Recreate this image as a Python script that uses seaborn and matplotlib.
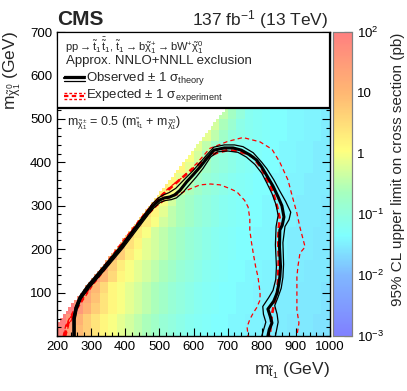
import numpy as np
import pandas as pd
import matplotlib
matplotlib.use("Agg")
import matplotlib.pyplot as plt
from matplotlib.colors import LinearSegmentedColormap
from matplotlib.patches import Rectangle
import seaborn as sns

nan = np.nan

# ==================== DATA ====================
# 95% CL upper limit, log10(pb), 25 GeV cells: rows m_chi0 = 0..525, cols m_stop = 200..1000
MSTOP_START, MCHI_START, CELL = 200, 0, 25
LIMIT_LOG10 = [
    [1.9, 1.4, 0.95, 0.7, 0.4, 0.15, 0.0, -0.15, -0.3, -0.45, -0.6, -0.75, -0.9, -1.0, -1.1, -1.2, -1.25, -1.3, -1.35, -1.35, -1.4, -1.4, -1.45, -1.45, -1.5, -1.5, -1.5, -1.55, -1.55, -1.55, -1.6, -1.6],
    [2.0, 1.55, 1.1, 0.7, 0.4, 0.15, 0.0, -0.15, -0.3, -0.45, -0.6, -0.75, -0.9, -1.0, -1.1, -1.2, -1.25, -1.3, -1.35, -1.35, -1.4, -1.4, -1.45, -1.45, -1.5, -1.5, -1.5, -1.55, -1.55, -1.55, -1.6, -1.6],
    [2.0, 2.0, 1.55, 1.1, 0.7, 0.4, 0.15, 0.0, -0.15, -0.3, -0.45, -0.6, -0.75, -0.9, -1.0, -1.1, -1.2, -1.25, -1.3, -1.35, -1.35, -1.4, -1.4, -1.45, -1.45, -1.5, -1.5, -1.5, -1.55, -1.55, -1.55, -1.6],
    [nan, 2.0, 1.7, 1.25, 0.85, 0.4, 0.15, 0.0, -0.15, -0.3, -0.45, -0.6, -0.75, -0.9, -1.0, -1.1, -1.2, -1.25, -1.3, -1.35, -1.35, -1.4, -1.4, -1.45, -1.45, -1.5, -1.5, -1.5, -1.55, -1.55, -1.55, -1.6],
    [nan, nan, 1.7, 1.4, 1.0, 0.55, 0.15, 0.0, -0.15, -0.3, -0.45, -0.6, -0.75, -0.9, -1.0, -1.1, -1.2, -1.25, -1.3, -1.35, -1.35, -1.4, -1.4, -1.45, -1.45, -1.5, -1.5, -1.5, -1.55, -1.55, -1.55, -1.6],
    [nan] * 3 + [1.7, 1.4, 1.0, 0.55, 0.15, 0.0, -0.15, -0.3, -0.45, -0.6, -0.75, -0.9, -1.0, -1.1, -1.2, -1.25, -1.3, -1.35, -1.35, -1.4, -1.4, -1.45, -1.45, -1.5, -1.5, -1.5, -1.55, -1.55, -1.55],
    [nan] * 4 + [1.4, 1.15, 0.7, 0.3, 0.0, -0.15, -0.3, -0.45, -0.6, -0.75, -0.9, -1.0, -1.1, -1.2, -1.25, -1.3, -1.35, -1.35, -1.4, -1.4, -1.45, -1.45, -1.5, -1.5, -1.5, -1.55, -1.55, -1.55],
    [nan] * 5 + [1.4, 1.15, 0.7, 0.3, 0.0, -0.15, -0.3, -0.45, -0.6, -0.75, -0.9, -1.0, -1.1, -1.2, -1.25, -1.3, -1.35, -1.35, -1.4, -1.4, -1.45, -1.45, -1.5, -1.5, -1.5, -1.55, -1.55],
    [nan] * 6 + [1.15, 0.85, 0.45, 0.15, -0.15, -0.3, -0.45, -0.6, -0.75, -0.9, -1.0, -1.1, -1.2, -1.25, -1.3, -1.35, -1.35, -1.4, -1.4, -1.45, -1.45, -1.5, -1.5, -1.5, -1.55, -1.55],
    [nan] * 7 + [0.85, 0.6, 0.3, 0.0, -0.3, -0.45, -0.6, -0.75, -0.9, -1.0, -1.1, -1.2, -1.25, -1.3, -1.35, -1.35, -1.4, -1.4, -1.45, -1.45, -1.5, -1.5, -1.5, -1.55, -1.55],
    [nan] * 8 + [0.85, 0.6, 0.3, 0.0, -0.3, -0.45, -0.6, -0.75, -0.9, -1.0, -1.1, -1.2, -1.25, -1.3, -1.35, -1.35, -1.4, -1.4, -1.45, -1.45, -1.5, -1.5, -1.5, -1.55],
    [nan] * 9 + [0.6, 0.45, 0.15, -0.15, -0.45, -0.6, -0.75, -0.9, -1.0, -1.1, -1.2, -1.25, -1.3, -1.35, -1.35, -1.4, -1.4, -1.45, -1.45, -1.5, -1.5, -1.5, -1.55],
    [nan] * 10 + [0.45, 0.3, 0.0, -0.3, -0.6, -0.75, -0.9, -1.0, -1.1, -1.2, -1.25, -1.3, -1.35, -1.35, -1.4, -1.4, -1.45, -1.45, -1.5, -1.5, -1.5, -1.55],
    [nan] * 11 + [0.45, 0.3, 0.0, -0.3, -0.6, -0.75, -0.9, -1.0, -1.1, -1.2, -1.25, -1.3, -1.35, -1.35, -1.4, -1.4, -1.45, -1.45, -1.5, -1.5, -1.5],
    [nan] * 12 + [0.3, 0.15, -0.15, -0.45, -0.75, -0.9, -1.0, -1.1, -1.2, -1.25, -1.3, -1.35, -1.35, -1.4, -1.4, -1.45, -1.45, -1.5, -1.5, -1.5],
    [nan] * 13 + [0.3, 0.15, -0.15, -0.45, -0.75, -0.9, -1.0, -1.1, -1.2, -1.25, -1.3, -1.35, -1.35, -1.4, -1.4, -1.45, -1.45, -1.5, -1.5],
    [nan] * 14 + [0.15, 0.0, -0.3, -0.6, -0.9, -1.0, -1.1, -1.2, -1.25, -1.3, -1.35, -1.35, -1.4, -1.4, -1.45, -1.45, -1.5, -1.5],
    [nan] * 15 + [0.0, -0.15, -0.45, -0.75, -1.0, -1.1, -1.2, -1.25, -1.3, -1.35, -1.35, -1.4, -1.4, -1.45, -1.45, -1.5, -1.5],
    [nan] * 16 + [0.0, -0.15, -0.45, -0.75, -1.0, -1.1, -1.2, -1.25, -1.3, -1.35, -1.35, -1.4, -1.4, -1.45, -1.45, -1.5],
    [nan] * 17 + [-0.15, -0.3, -0.6, -0.85, -1.1, -1.2, -1.25, -1.3, -1.35, -1.35, -1.4, -1.4, -1.45, -1.45, -1.5],
    [nan] * 18 + [-0.3, -0.45, -0.7, -0.95, -1.2, -1.25, -1.3, -1.35, -1.35, -1.4, -1.4, -1.45, -1.45, -1.5],
]
DM_MIN = 167  # kinematic edge m_stop - m_chi0 (GeV)

# observed contour and +-1 sigma theory
obs_x = [250, 250, 256, 268, 291, 320, 341, 365, 390, 415, 440, 465, 482, 500, 515, 530, 545, 560, 580, 600, 620, 640, 660, 690, 716, 740, 765, 785, 800, 818, 833, 848, 859, 865, 860, 853, 852, 855, 853, 850, 845, 835, 818, 825, 830, 822, 818]
obs_y = [0, 40, 64, 88, 113, 140, 159, 182, 205, 232, 258, 283, 300, 313, 318, 320, 325, 335, 355, 372, 390, 410, 428, 433, 433, 428, 417, 405, 389, 365, 345, 320, 300, 274, 255, 244, 205, 160, 136, 120, 99, 80, 62, 45, 30, 15, 0]
obs_up_x = [247, 247, 253, 265, 288, 338, 387, 462, 480, 497, 512, 528, 548, 575, 598, 620, 640, 660, 690, 720, 745, 775, 800, 815, 835, 852, 870, 885, 880, 868, 862, 864, 862, 857, 848, 838, 845, 848, 840]
obs_up_y = [0, 42, 66, 90, 116, 162, 208, 286, 305, 318, 325, 330, 340, 362, 380, 400, 418, 435, 440, 440, 436, 422, 400, 385, 360, 335, 310, 285, 268, 252, 215, 165, 135, 110, 90, 70, 50, 32, 0]
obs_dn_x = [253, 253, 259, 271, 294, 344, 393, 468, 485, 503, 518, 535, 550, 568, 588, 608, 628, 650, 670, 700, 730, 755, 780, 800, 815, 830, 842, 848, 842, 840, 843, 841, 833, 820, 803, 805, 812, 800]
obs_dn_y = [0, 38, 62, 86, 110, 156, 202, 280, 296, 308, 312, 314, 318, 330, 348, 366, 386, 412, 424, 426, 423, 412, 395, 375, 352, 328, 302, 278, 252, 210, 160, 130, 105, 88, 68, 50, 32, 0]

# expected contour and +-1 sigma experiment
exp_x = [222, 230, 240, 260, 300, 350, 400, 440, 470, 500, 531, 560, 590, 620, 648, 669, 700, 727, 755, 775, 800, 815, 824, 835, 845, 853, 850, 848, 850, 848, 845, 838, 830, 826, 824]
exp_y = [0, 25, 40, 68, 118, 168, 220, 262, 292, 318, 340, 360, 380, 398, 415, 422, 428, 426, 420, 412, 385, 360, 350, 325, 298, 270, 250, 220, 180, 130, 100, 80, 50, 25, 0]
exp_up_x = [218, 226, 256, 296, 346, 396, 446, 480, 510, 531, 569, 610, 648, 700, 745, 795, 830, 853, 877, 890, 903, 912, 927, 912, 906, 903, 903, 903, 909, 903]
exp_up_y = [0, 25, 70, 120, 170, 222, 272, 305, 328, 343, 366, 398, 432, 448, 457, 447, 430, 400, 359, 320, 283, 250, 205, 191, 160, 136, 99, 60, 30, 0]
exp_dn_x = [226, 234, 264, 303, 353, 403, 453, 493, 520, 552, 585, 619, 650, 678, 705, 727, 750, 760, 765, 765, 770, 775, 782, 789, 795, 795, 785, 775, 765, 757, 760]
exp_dn_y = [0, 25, 68, 115, 165, 217, 268, 300, 315, 325, 337, 348, 350, 348, 340, 332, 312, 297, 270, 244, 215, 191, 160, 136, 100, 83, 65, 53, 38, 21, 0]

X_TICKS = [200, 300, 400, 500, 600, 700, 800, 900, 1000]
Y_TICKS = [100, 200, 300, 400, 500, 600, 700]
CBAR_TICKS = [-3, -2, -1, 0, 1, 2]
CBAR_LABELS = [r'$10^{-3}$', r'$10^{-2}$', r'$10^{-1}$', '1', '10', r'$10^{2}$']

# ==================== STYLE ====================
sns.set_theme(style='ticks')
plt.rcParams['font.family'] = ['Liberation Sans', 'DejaVu Sans']
plt.rcParams['mathtext.fontset'] = 'custom'
plt.rcParams['mathtext.rm'] = 'Liberation Sans'
plt.rcParams['mathtext.it'] = 'Liberation Sans:italic'
plt.rcParams['mathtext.bf'] = 'Liberation Sans:bold'
plt.rcParams['mathtext.default'] = 'regular'

cmap = LinearSegmentedColormap.from_list('pastel_rainbow', [
    (0.00, (0.50, 0.50, 1.00)),
    (0.20, (0.50, 0.72, 1.00)),
    (0.33, (0.50, 1.00, 1.00)),
    (0.47, (0.65, 1.00, 0.75)),
    (0.61, (1.00, 1.00, 0.50)),
    (0.80, (1.00, 0.72, 0.45)),
    (1.00, (1.00, 0.50, 0.50)),
])

W, H = 407, 391
fig = plt.figure(figsize=(W / 100, H / 100), dpi=100)
pos = [57 / W, (H - 336) / H, 273 / W, 304 / H]
ax_hm = fig.add_axes(pos)
cax = fig.add_axes([333 / W, (H - 336) / H, 19 / W, 304 / H])
ax = fig.add_axes(pos)
ax.set_facecolor('none')

# ==================== HEATMAP ====================
SUB = 3  # split each cell to draw the kinematic edge as a fine staircase
grid = np.repeat(np.repeat(np.array(LIMIT_LOG10, dtype=float), SUB, axis=0), SUB, axis=1)
step = CELL / SUB
mstop_c = MSTOP_START + (np.arange(grid.shape[1]) + 0.5) * step
mchi_c = MCHI_START + (np.arange(grid.shape[0]) + 0.5) * step
grid[mchi_c[:, None] > mstop_c[None, :] - DM_MIN] = nan

sns.heatmap(pd.DataFrame(grid[::-1]), ax=ax_hm, cmap=cmap, vmin=-3, vmax=2,
            cbar_ax=cax, xticklabels=False, yticklabels=False)
n_rows, n_cols = grid.shape
ax_hm.set_xlim(0, n_cols)
ax_hm.set_ylim(n_rows, n_rows - 700 / step)
ax_hm.axis('off')

# ==================== CONTOURS ====================
def draw(x, y, **kw):
    sns.lineplot(x=x, y=y, sort=False, estimator=None, ax=ax, **kw)

draw(exp_up_x, exp_up_y, color='red', lw=0.9, linestyle=(0, (3.5, 2.5)))
draw(exp_dn_x, exp_dn_y, color='red', lw=0.9, linestyle=(0, (3.5, 2.5)))
draw(exp_x, exp_y, color='red', lw=1.9, linestyle=(0, (2.2, 1.4)))
draw(obs_up_x, obs_up_y, color='black', lw=0.9)
draw(obs_dn_x, obs_dn_y, color='black', lw=0.9)
draw(obs_x, obs_y, color='black', lw=2.2)

ax.set_xlim(200, 1000)
ax.set_ylim(0, 700)
ax.set_xlabel('')
ax.set_ylabel('')
ax.set_xticks(X_TICKS)
ax.set_xticks(np.arange(200, 1001, 20), minor=True)
ax.set_yticks(Y_TICKS)
ax.set_yticks(np.arange(0, 701, 20), minor=True)
ax.tick_params(which='both', direction='in', top=True, right=True, labelsize=9.5,
               colors='black')
ax.tick_params(which='major', length=6, width=0.8)
ax.tick_params(which='minor', length=3, width=0.8)
for s in ax.spines.values():
    s.set_linewidth(1.0)
    s.set_color('black')

# ==================== LEGEND BOX ====================
ax.add_patch(Rectangle((200, 525), 800, 175, facecolor='white', edgecolor='black',
                       lw=1.6, zorder=5))
ax.text(224, 668, r'pp$\rightarrow$$\tilde{t}_{1}\,\bar{\tilde{t}}_{1}$, '
        r'$\tilde{t}_{1}\rightarrow b\tilde{\chi}^{+}_{1}\rightarrow bW^{+}\tilde{\chi}^{0}_{1}$',
        fontsize=8, va='center', zorder=6)
ax.text(225, 633, 'Approx. NNLO+NNLL exclusion', fontsize=9.5, va='center', zorder=6)
for off, lw in [(-5, 0.9), (0, 1.6), (5, 0.9)]:
    ax.plot([221, 282], [593 + off, 593 + off], color='black', lw=lw, zorder=6)
for off, lw in [(-7, 1.0), (0, 1.6), (7, 1.0)]:
    ax.plot([221, 282], [553 + off, 553 + off], color='red', lw=lw,
            linestyle=(0, (2, 1.5)), zorder=6)
ax.text(285, 593, r'Observed $\pm$ 1 $\sigma_{theory}$', fontsize=9.5, va='center', zorder=6)
ax.text(285, 553, r'Expected $\pm$ 1 $\sigma_{experiment}$', fontsize=9.5, va='center', zorder=6)

ax.text(230, 490, r'$m_{\tilde{\chi}^{\pm}_{1}}$ = 0.5 ($m_{\tilde{t}_{1}}$ + $m_{\tilde{\chi}^{0}_{1}}$)',
        fontsize=9, va='center')

# ==================== COLORBAR ====================
cax.set_yticks(CBAR_TICKS)
cax.set_yticklabels(CBAR_LABELS)
minor = [d + np.log10(k) for d in range(-3, 2) for k in range(2, 10)]
cax.set_yticks(minor, minor=True)
cax.tick_params(which='both', direction='in', right=True, left=False, labelsize=9.5,
                colors='black')
cax.tick_params(which='major', length=6, width=0.8)
cax.tick_params(which='minor', length=3, width=0.8)
cax.yaxis.set_ticks_position('right')
for s in cax.spines.values():
    s.set_visible(True)
    s.set_linewidth(0.8)
    s.set_color('gray')

# ==================== TITLES & LABELS ====================
fig.text(57 / W, (H - 25) / H, 'CMS', fontsize=15, fontweight='bold', va='baseline')
fig.text(328 / W, (H - 25) / H, r'137 fb$^{-1}$ (13 TeV)', fontsize=12.5, ha='right',
         va='baseline')
fig.text(330 / W, (H - 371) / H, r'$m_{\tilde{t}_{1}}$ (GeV)', fontsize=12.5, ha='right',
         va='center')
fig.text(12 / W, (H - 31) / H, r'$m_{\tilde{\chi}^{0}_{1}}$ (GeV)', fontsize=12.5,
         rotation=90, ha='center', va='top')
fig.text(398 / W, (H - 33) / H, '95% CL upper limit on cross section (pb)', fontsize=11,
         rotation=90, ha='center', va='top')

fig.savefig('out.png', dpi=100)
